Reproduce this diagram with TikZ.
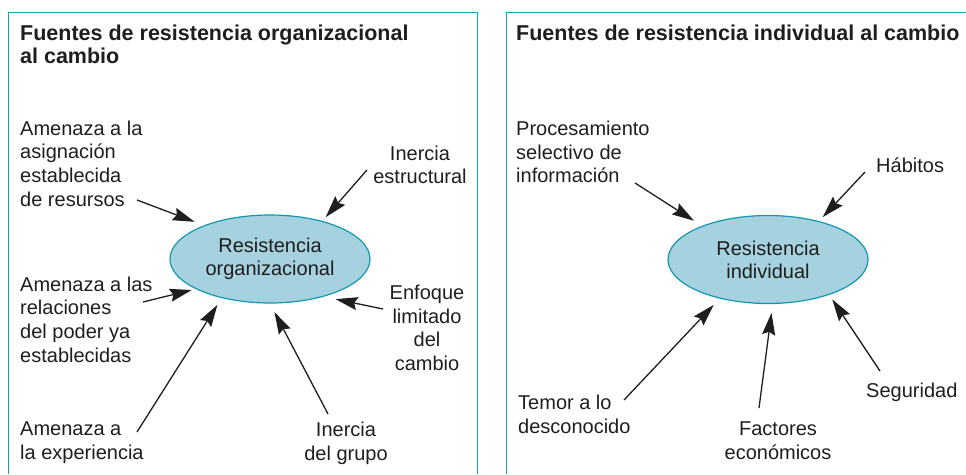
\documentclass[tikz,border=0pt]{standalone}
\usepackage{fontspec}
\setmainfont{Liberation Sans}
\usepackage{xcolor}
\usetikzlibrary{arrows.meta,shapes.geometric}
\definecolor{frameteal}{RGB}{22,160,186}
\definecolor{coreblue}{RGB}{166,210,223}
\definecolor{coreedge}{RGB}{20,150,175}
\definecolor{inkblack}{RGB}{30,30,30}

\begin{document}
\begin{tikzpicture}[
    x=1pt, y=-1pt,
    >={Stealth[length=22pt, width=13pt, inset=3pt]},
    panel/.style={draw=frameteal, line width=1.6pt},
    title/.style={
        anchor=north west, inner sep=0pt, align=left,
        font=\fontsize{21.5}{23}\selectfont\bfseries, text=inkblack
    },
    srclabel/.style={inner sep=0pt, font=\fontsize{20}{23.6}\selectfont, text=inkblack},
    leftlabel/.style={srclabel, anchor=north west, align=left},
    midlabel/.style={srclabel, anchor=north, align=center},
    core/.style={
        ellipse, draw=coreedge, line width=1.2pt, fill=coreblue,
        minimum width=200pt, minimum height=88pt, inner sep=0pt,
        align=center, font=\fontsize{20}{23}\selectfont, text=inkblack
    },
    arrow/.style={->, line width=1.3pt, inkblack}
]
\useasboundingbox (0,0) rectangle (966,474);

% Marcos
\draw[panel] (8.5,474) |- (477.5,12.5) -- (477.5,474);
\draw[panel] (506.5,474) |- (966,12.5);

% Panel izquierdo: resistencia organizacional
\node[title] (orgtitle) at (20,24.5) {Fuentes de resistencia organizacional\\al cambio};
\node[core] (org) at (270,259) {Resistencia\\organizacional};

\node[leftlabel] (asig) at (20,120.7) {Amenaza a la\\asignación\\establecida\\de resursos};
\node[midlabel] (inerest) at (420,145.5) {Inercia\\estructural};
\node[leftlabel] (poder) at (20,276.7) {Amenaza a las\\relaciones\\del poder ya\\establecidas};
\node[midlabel] (enfoque) at (427,285) {Enfoque\\limitado\\del\\cambio};
\node[leftlabel] (exper) at (20,422) {Amenaza a\\la experiencia};
\node[midlabel] (inergru) at (346,422) {Inercia\\del grupo};

\coordinate (tasig) at (137,200);
\coordinate (tinerest) at (367,170);
\coordinate (tpoder) at (143,302);
\coordinate (tenfoque) at (383,309);
\coordinate (texper) at (137,432);
\coordinate (tinergru) at (328,414);

\draw[arrow, shorten >=10pt] (tasig) -- (org.153);
\draw[arrow, shorten >=5pt] (tinerest) -- (org.36.5);
\draw[arrow, shorten >=4pt] (tpoder) -- (org.202);
\draw[arrow, shorten >=12pt] (tenfoque) -- (org.325);
\draw[arrow, shorten >=8pt] (texper) -- (org.219.4);
\draw[arrow, shorten >=9.6pt] (tinergru) -- (org.270.8);

% Panel derecho: resistencia individual
\node[title] (indtitle) at (516,24.5) {Fuentes de resistencia individual al cambio};
\node[core] (ind) at (768,259.5) {Resistencia\\individual};

\node[leftlabel] (proces) at (516,121) {Procesamiento\\selectivo de\\información};
\node[srclabel, anchor=base west] (habit) at (876,172) {Hábitos};
\node[leftlabel] (temor) at (518,395) {Temor a lo\\desconocido};
\node[midlabel] (factor) at (778,421.5) {Factores\\económicos};
\node[srclabel, anchor=base west] (segur) at (866,397) {Seguridad};

\coordinate (tproces) at (635,183);
\coordinate (thabit) at (865,172);
\coordinate (ttemor) at (624,400);
\coordinate (tfactor) at (759,408);
\coordinate (tsegur) at (880,371);

\draw[arrow, shorten >=9.5pt] (tproces) -- (ind.153.6);
\draw[arrow, shorten >=5.4pt] (thabit) -- (ind.37.5);
\draw[arrow, shorten >=8.6pt] (ttemor) -- (ind.219.9);
\draw[arrow, shorten >=9pt] (tfactor) -- (ind.276.7);
\draw[arrow, shorten >=5.4pt] (tsegur) -- (ind.330.6);

\end{tikzpicture}
\end{document}
